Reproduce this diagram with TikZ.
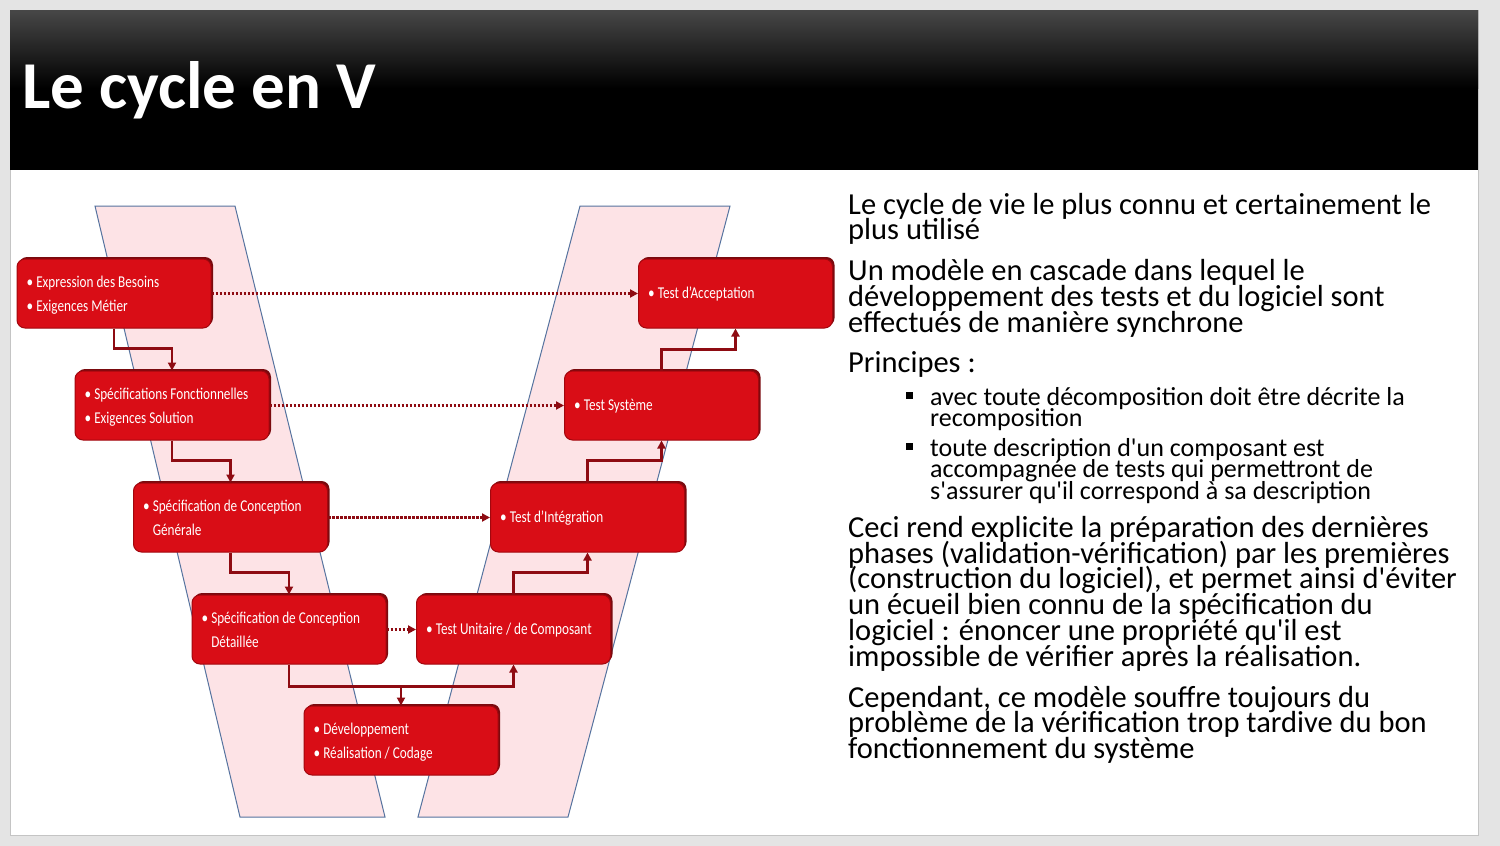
\documentclass[tikz,border=0pt]{standalone}
\usepackage{fontspec}
\setmainfont{Carlito}[Ligatures=TeXOff]
\newfontfamily\boxfont[FakeStretch=0.8]{Carlito}
\usetikzlibrary{arrows.meta,shadows,calc}

\definecolor{vred}{HTML}{D90D16}
\definecolor{vedge}{HTML}{A2070E}
\definecolor{vshadow}{HTML}{7A0A0E}
\definecolor{vlink}{HTML}{8E0B12}
\definecolor{vpink}{HTML}{FDE3E6}
\definecolor{vline}{HTML}{56739F}
\definecolor{pagegray}{HTML}{E4E4E4}
\definecolor{slideedge}{HTML}{C4C4C4}

% keep line spacing fixed even when accents and descenders come close
\lineskiplimit=-50pt

\begin{document}
\begin{tikzpicture}[x=1pt,y=-1pt,
  phase/.style={rectangle, rounded corners=8, minimum width=194, minimum height=69,
    fill=vred, draw=vedge, line width=1,
    drop shadow={shadow xshift=2, shadow yshift=-2, fill=vshadow, opacity=1}},
  % multi-line nodes are placed by the baseline of their last line
  phasetext/.style={anchor=base west, inner sep=0, align=left, text=white,
    font=\boxfont\fontsize{16.5}{24}\selectfont},
  link/.style={draw=vlink, line width=2.5, -{Triangle[length=8,width=8]}},
  trace/.style={draw=vlink, line width=2.5, dash pattern=on 2.5 off 1.5,
    -{Triangle[length=8,width=8]}},
  arm/.style={fill=vpink, draw=vline, line width=1},
  para/.style={anchor=base west, inner sep=0, align=left,
    font=\fontsize{30.5}{25.7}\selectfont},
  subpara/.style={para, font=\fontsize{26}{21.5}\selectfont},
  sqbullet/.style={fill=black, minimum size=7, inner sep=0, rectangle},
  titletext/.style={anchor=base west, inner sep=0, text=white,
    font=\bfseries\fontsize{67}{70}\selectfont}]
\useasboundingbox (0,0) rectangle (1500,846);

% page and slide
\fill[pagegray] (0,0) rectangle (1500,846);
\fill[white] (10,10) rectangle (1478,835);
\draw[slideedge, line width=1] (10,10) rectangle (1478,835);

% title bar
\fill[black] (10,10) rectangle (1478,170);
\shade[top color=black!72, bottom color=black] (10,10) rectangle (1478,88);
\node[titletext] (title) at (22,108) {Le cycle en V};

% the two arms of the V
\draw[arm] (95,206) -- (235,206) -- (385,817) -- (240,817) -- cycle;
\draw[arm] (580,206) -- (730,206) -- (568,817) -- (418,817) -- cycle;

% phases
\node[phase] (b1) at (114,293.5) {};
\node[phase] (b2) at (172,405.5) {};
\node[phase] (b3) at (230.5,517.5) {};
\node[phase] (b4) at (289,629.5) {};
\node[phase] (b5) at (401,740.5) {};
\node[phase] (b6) at (513.5,629.5) {};
\node[phase] (b7) at (587.5,517.5) {};
\node[phase] (b8) at (661.5,405.5) {};
\node[phase] (b9) at (735.5,293.5) {};

\node[phasetext] (t1) at ($(b1.north west)+(10,53)$) {\textbullet\ Expression des Besoins\\\textbullet\ Exigences Métier};
\node[phasetext] (t2) at ($(b2.north west)+(10,53)$) {\textbullet\ Spécifications Fonctionnelles\\\textbullet\ Exigences Solution};
\node[phasetext] (t3) at ($(b3.north west)+(10,53)$) {\textbullet\ Spécification de Conception\\\hphantom{\textbullet\ }Générale};
\node[phasetext] (t4) at ($(b4.north west)+(10,53)$) {\textbullet\ Spécification de Conception\\\hphantom{\textbullet\ }Détaillée};
\node[phasetext] (t5) at ($(b5.north west)+(10,53)$) {\textbullet\ Développement\\\textbullet\ Réalisation / Codage};
\node[phasetext] (t6) at ($(b6.north west)+(10,40)$) {\textbullet\ Test Unitaire / de Composant};
\node[phasetext] (t7) at ($(b7.north west)+(10,40)$) {\textbullet\ Test d’Intégration};
\node[phasetext] (t8) at ($(b8.north west)+(10,40)$) {\textbullet\ Test Système};
\node[phasetext] (t9) at ($(b9.north west)+(10,40)$) {\textbullet\ Test d’Acceptation};

% descending branch
\draw[link] (b1.south) -- ++(0,20) -| (b2.north);
\draw[link] (b2.south) -- ++(0,20) -| (b3.north);
\draw[link] (b3.south) -- ++(0,20) -| (b4.north);
\draw[link] (b4.south) -- ++(0,22) coordinate (j) -| (b6.south);
\draw[link] (j -| b5.north) -- (b5.north);
% ascending branch
\draw[link] (b6.north) -- ++(0,-22) -| (b7.south);
\draw[link] (b7.north) -- ++(0,-22) -| (b8.south);
\draw[link] (b8.north) -- ++(0,-21) -| (b9.south);

% traceability between levels
\draw[trace] (b1.east) -- (b9.west);
\draw[trace] (b2.east) -- (b8.west);
\draw[trace] (b3.east) -- (b7.west);
\draw[trace] (b4.east) -- (b6.west);

% text column
\node[para] (p1) at (848,239.7) {Le cycle de vie le plus connu et certainement le\\plus utilisé};
\node[para] (p2) at (848,332) {Un modèle en cascade dans lequel le\\développement des tests et du logiciel sont\\effectués de manière synchrone};
\node[para] (p3) at (848,372.5) {Principes :};
\node[sqbullet] (s1) at (909,395.5) {};
\node[subpara] (p3a) at (930,426.5) {avec toute décomposition doit être décrite la\\recomposition};
\node[sqbullet] (s2) at (909,446.5) {};
\node[subpara] (p3b) at (930,499) {toute description d'un composant est\\accompagnée de tests qui permettront de\\s'assurer qu'il correspond à sa description};
\node[para] (p4) at (848,666) {Ceci rend explicite la préparation des dernières\\phases (validation-vérification) par les premières\\(construction du logiciel), et permet ainsi d'éviter\\un écueil bien connu de la spécification du\\logiciel : énoncer une propriété qu'il est\\impossible de vérifier après la réalisation.};
\node[para] (p5) at (848,758.5) {Cependant, ce modèle souffre toujours du\\problème de la vérification trop tardive du bon\\fonctionnement du système};
\end{tikzpicture}
\end{document}
